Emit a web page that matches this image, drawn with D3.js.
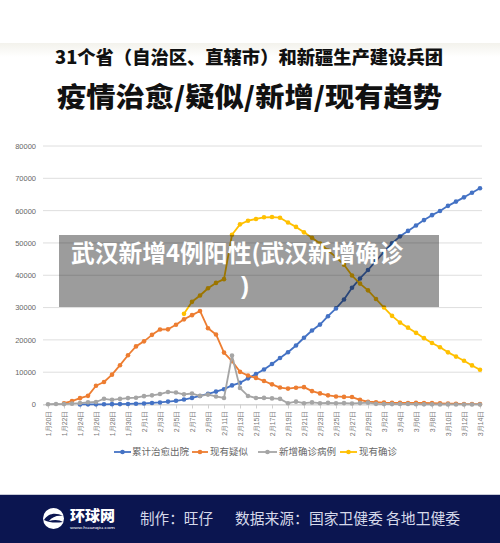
<!DOCTYPE html>
<html><head><meta charset="utf-8">
<script src="https://cdn.jsdelivr.net/npm/d3@7/dist/d3.min.js"></script>
<style>
html,body{margin:0;padding:0;background:#fff;}
svg{display:block;font-family:"Noto Sans CJK SC","Noto Sans",sans-serif;}
</style></head>
<body><svg id="c" width="500" height="543"></svg>
<script>
const categories = ["1月20日","1月21日","1月22日","1月23日","1月24日","1月25日","1月26日","1月27日","1月28日","1月29日","1月30日","1月31日",
"2月1日","2月2日","2月3日","2月4日","2月5日","2月6日","2月7日","2月8日","2月9日","2月10日","2月11日","2月12日","2月13日","2月14日","2月15日","2月16日","2月17日","2月18日","2月19日","2月20日","2月21日","2月22日","2月23日","2月24日","2月25日","2月26日","2月27日","2月28日","2月29日",
"3月1日","3月2日","3月3日","3月4日","3月5日","3月6日","3月7日","3月8日","3月9日","3月10日","3月11日","3月12日","3月13日","3月14日"];

const cured = [null,null,null,null,38,49,51,60,103,124,171,243,
328,475,632,892,1153,1540,2050,2649,3281,3996,4740,5911,6723,8096,9419,10844,12552,14376,16155,18264,20659,22888,24734,27323,29745,32495,36117,39002,41625,
44462,47204,49856,52045,53726,55404,57065,58600,59897,61475,62793,64111,65541,66911];

const suspected = [null,null,393,1072,1965,2684,5794,6973,9239,12167,15238,17988,
19544,21558,23214,23260,24702,26359,27657,28942,23589,21675,16067,13435,10109,8969,8228,7264,6242,5248,4922,5206,5365,4148,3434,2824,2491,2358,2308,1418,851,
715,587,520,522,482,502,458,421,349,285,253,147,134,128];

const newConfirmed = [77,149,131,259,444,688,769,1771,1459,1737,1982,2102,
2590,2829,3235,3887,3694,3143,3399,2656,3062,2478,2015,15152,5090,2641,2009,2048,1886,1749,394,889,397,648,409,508,406,433,327,427,573,
202,125,119,139,143,99,44,40,19,24,15,8,11,20];

const currentConfirmed = [null,null,null,null,null,null,null,null,null,null,null,null,
null,null,null,null,null,28060,31774,33738,35982,37626,38800,52526,55748,56873,57416,57934,58016,57805,56303,54965,53284,51606,49824,47672,45604,43258,39919,37414,35329,
32652,30004,27433,25352,23784,22177,20533,19016,17721,16145,14831,13526,12094,10734];

const seriesNames = ["累计治愈出院","现有疑似","新增确诊病例","现有确诊"];
const seriesColors = ["#4472C4","#ED7D31","#A5A5A5","#FFC000"];
const yTicks = [0,10000,20000,30000,40000,50000,60000,70000,80000];
const xTickLabels = categories.filter((d,i)=>i%2===0);

const titleLine1 = "31个省（自治区、直辖市）和新疆生产建设兵团";
const titleLine2 = "疫情治愈/疑似/新增/现有趋势";
const overlayLine1 = "武汉新增4例阳性(武汉新增确诊";
const overlayLine2 = ")";
const footerMaker = "制作：旺仔";
const footerSource = "数据来源：国家卫健委 各地卫健委";

const svg = d3.select("#c");

// faint top band
const defs = svg.append("defs");
const g1 = defs.append("linearGradient").attr("id","topfade").attr("x1",0).attr("x2",0).attr("y1",0).attr("y2",1);
g1.append("stop").attr("offset","0%").attr("stop-color","#f3f2ec");
g1.append("stop").attr("offset","100%").attr("stop-color","#ffffff");
svg.append("rect").attr("x",0).attr("y",43).attr("width",500).attr("height",14).attr("fill","url(#topfade)");

// titles
svg.append("text").attr("x",249).attr("y",64).attr("text-anchor","middle")
  .attr("font-size",18).attr("font-weight",900).attr("fill","#111")
  .attr("textLength",388).attr("lengthAdjust","spacingAndGlyphs").text(titleLine1);
svg.append("text").attr("x",249.5).attr("y",107).attr("text-anchor","middle")
  .attr("font-size",27).attr("font-weight",900).attr("fill","#111")
  .attr("textLength",385).attr("lengthAdjust","spacingAndGlyphs").text(titleLine2);

// scales
const x = d3.scalePoint().domain(categories).range([48,480]);
const y = d3.scaleLinear().domain([0,80000]).range([404.5,146]);

// grid
svg.append("g").selectAll("line").data(yTicks).join("line")
  .attr("x1",43).attr("x2",482).attr("y1",d=>y(d)).attr("y2",d=>y(d))
  .attr("stroke","#dedede").attr("stroke-width",1);

// y axis
const yAxis = svg.append("g").attr("transform","translate(43,0)")
  .call(d3.axisLeft(y).tickValues(yTicks).tickSize(0).tickPadding(7).tickFormat(d3.format("d")));
yAxis.select(".domain").remove();
yAxis.selectAll("text").attr("font-size",7.5).attr("fill","#666").attr("font-family","Arial, 'Liberation Sans', sans-serif");

// x axis
const xAxis = svg.append("g").attr("transform",`translate(0,${y(0)})`)
  .call(d3.axisBottom(x).tickValues(xTickLabels).tickSize(4));
xAxis.select(".domain").attr("stroke","#d0d0d0").attr("d","M43,0.5H482");
xAxis.selectAll(".tick line").attr("stroke","#d0d0d0");
xAxis.selectAll("text").attr("font-size",7).attr("fill","#777")
  .attr("transform","rotate(-90)").attr("text-anchor","end")
  .attr("x",-6).attr("y",0).attr("dy","0.35em");

// series
const allSeries = [cured, suspected, newConfirmed, currentConfirmed];
const line = d3.line().defined(d=>d.v!=null).x(d=>x(d.c)).y(d=>y(d.v));
allSeries.forEach((vals,si)=>{
  const data = vals.map((v,i)=>({c:categories[i], v}));
  const g = svg.append("g");
  g.append("path").datum(data).attr("d",line).attr("fill","none")
    .attr("stroke",seriesColors[si]).attr("stroke-width",1.8).attr("stroke-linejoin","round");
  g.selectAll("circle").data(data.filter(d=>d.v!=null)).join("circle")
    .attr("cx",d=>x(d.c)).attr("cy",d=>y(d.v)).attr("r",2.3).attr("fill",seriesColors[si]);
});

// legend
const legendItems = [
  {lx1:114,lx2:131,tx:132},
  {lx1:192,lx2:208,tx:210},
  {lx1:258,lx2:277,tx:279},
  {lx1:340,lx2:357,tx:359}
];
const lg = svg.append("g");
legendItems.forEach((it,i)=>{
  lg.append("line").attr("x1",it.lx1).attr("x2",it.lx2).attr("y1",452).attr("y2",452)
    .attr("stroke",seriesColors[i]).attr("stroke-width",1.8);
  lg.append("circle").attr("cx",(it.lx1+it.lx2)/2).attr("cy",452).attr("r",2.3).attr("fill",seriesColors[i]);
  lg.append("text").attr("x",it.tx).attr("y",452).attr("dy","0.35em")
    .attr("font-size",9.5).attr("fill","#666").text(seriesNames[i]);
});

// overlay
svg.append("rect").attr("x",59).attr("y",235).attr("width",380).attr("height",72)
  .attr("fill","rgba(0,0,0,0.39)");
svg.append("text").attr("x",71).attr("y",262).attr("font-size",24).attr("font-weight",700).attr("fill","#fff")
  .attr("textLength",332).attr("lengthAdjust","spacingAndGlyphs").text(overlayLine1);
svg.append("text").attr("x",241).attr("y",293.5).attr("font-size",24).attr("font-weight",700).attr("fill","#fff")
  .attr("font-family","'Liberation Sans', Arial, sans-serif").text(overlayLine2);

// footer
svg.append("rect").attr("x",0).attr("y",494).attr("width",500).attr("height",1).attr("fill","#c9cbd8");
svg.append("rect").attr("x",0).attr("y",495).attr("width",500).attr("height",48).attr("fill","#0b1550");
// logo
svg.append("circle").attr("cx",53.5).attr("cy",518.5).attr("r",10.5).attr("fill","#fff");
svg.append("path").attr("d","M44,520 C48,513 56,512 63,516 C57,515 52,517 49,521 C55,519 60,520 63,522 C56,523 50,523 44,520 Z").attr("fill","#0b1550");
svg.append("text").attr("x",70).attr("y",520.5).attr("font-size",14.5).attr("font-weight",900).attr("fill","#fff")
  .attr("textLength",45).attr("lengthAdjust","spacingAndGlyphs").text("环球网");
svg.append("text").attr("x",70).attr("y",529).attr("font-size",3.6).attr("fill","#fff")
  .attr("font-family","'Liberation Sans', Arial, sans-serif")
  .attr("textLength",45).attr("lengthAdjust","spacingAndGlyphs").text("www.huanqiu.com");
svg.append("text").attr("x",140).attr("y",518.5).attr("dy","0.35em").attr("font-size",15)
  .attr("fill","#d6d9ea").attr("textLength",73).attr("lengthAdjust","spacingAndGlyphs").text(footerMaker);
svg.append("text").attr("x",235).attr("y",518.5).attr("dy","0.35em").attr("font-size",15)
  .attr("fill","#d6d9ea").attr("textLength",225).attr("lengthAdjust","spacingAndGlyphs").text(footerSource);
</script></body></html>
